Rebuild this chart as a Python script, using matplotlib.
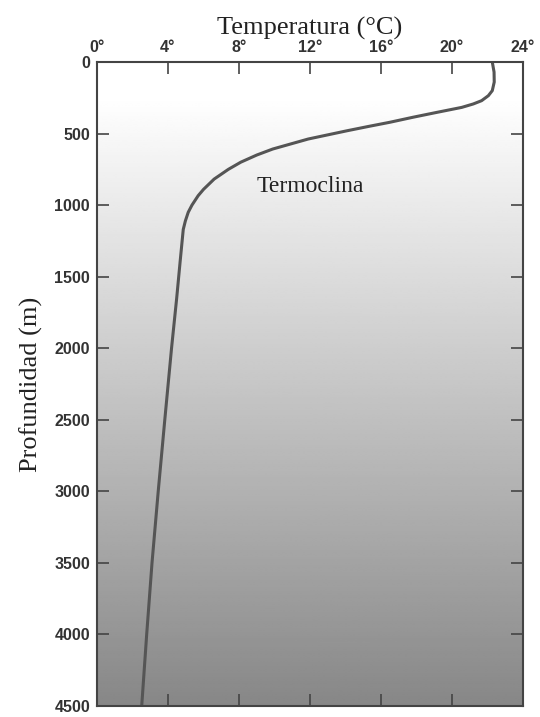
import numpy as np
import matplotlib
matplotlib.use('Agg')
import matplotlib.pyplot as plt

# perfil de temperatura
profundidad = [0, 70, 140, 200, 235, 270, 293, 317, 352, 386, 421, 450, 480, 538,
               608, 650, 700, 750, 818, 890, 934, 1000, 1050, 1110, 1170, 1400,
               1650, 2000, 2500, 3000, 3500, 4000, 4500]
temperatura = [22.27, 22.37, 22.38, 22.27, 22.05, 21.67, 21.2, 20.55, 19.14, 17.8,
               16.5, 15.3, 14.1, 11.9, 9.9, 9.0, 8.1, 7.4, 6.6, 6.0, 5.7, 5.35,
               5.14, 4.98, 4.86, 4.68, 4.49, 4.2, 3.82, 3.45, 3.1, 2.8, 2.52]

x_ticks = [0, 4, 8, 12, 16, 20, 24]
x_labels = ['0°', '4°', '8°', '12°', '16°', '20°', '24°']
y_ticks = [0, 500, 1000, 1500, 2000, 2500, 3000, 3500, 4000, 4500]

fig = plt.figure(figsize=(5.4, 7.17), dpi=100)
ax = fig.add_axes([0.1796, 0.0153, 0.7889, 0.8982])

# fondo degradado: blanco arriba, gris abajo
zz = np.linspace(0, 4500, 300)
grad = np.interp(zz, [0, 250, 4500], [1.0, 1.0, 0.53]).reshape(-1, 1)
ax.imshow(grad, extent=[0, 24, 4500, 0], aspect='auto', cmap='gray',
          vmin=0, vmax=1, zorder=0, interpolation='bilinear')

ax.plot(temperatura, profundidad, color='#555555', lw=2.2, zorder=2,
        solid_joinstyle='round')

ax.text(12, 870, 'Termoclina', fontfamily='Liberation Serif', fontsize=17,
        ha='center', va='center', color='#222222')

ax.set_xlim(0, 24)
ax.set_ylim(4500, 0)
ax.set_xticks(x_ticks)
ax.set_xticklabels(x_labels)
ax.set_yticks(y_ticks)

ax.tick_params(direction='in', top=True, bottom=True, left=True, right=True,
               labeltop=True, labelbottom=False, length=8.5, width=1.2,
               color='#444444', pad=5, labelsize=11.5, labelcolor='#333333')
for lbl in ax.get_xticklabels() + ax.get_yticklabels():
    lbl.set_fontfamily('Liberation Sans')
    lbl.set_fontweight('bold')

for s in ax.spines.values():
    s.set_color('#444444')
    s.set_linewidth(1.5)

ax.xaxis.set_label_position('top')
ax.set_xlabel('Temperatura (°C)', fontfamily='Liberation Serif', fontsize=19,
              labelpad=4, color='#222222')
ax.set_ylabel('Profundidad (m)', fontfamily='Liberation Serif', fontsize=19,
              labelpad=8, color='#222222')

fig.savefig('out.png', dpi=100)
